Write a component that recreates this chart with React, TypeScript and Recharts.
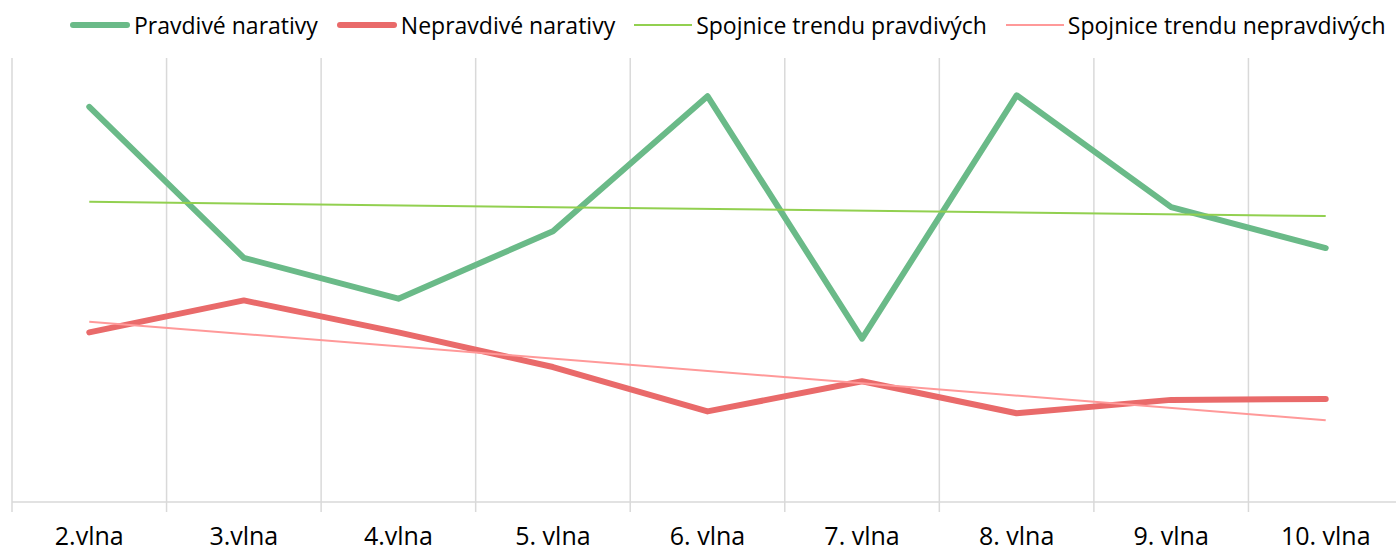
import React from 'react';
import { LineChart, Line, XAxis, YAxis, CartesianGrid, Legend } from 'recharts';

const categories = ['2.vlna', '3.vlna', '4.vlna', '5. vlna', '6. vlna', '7. vlna', '8. vlna', '9. vlna', '10. vlna'];
const pravdive = [44.5, 27.5, 22.9, 30.5, 45.7, 18.4, 45.8, 33.2, 28.6];
const nepravdive = [19.1, 22.7, 19.1, 15.2, 10.2, 13.6, 10.0, 11.5, 11.6];
const trendPravdive = [33.8, null, null, null, null, null, null, null, 32.2];
const trendNepravdive = [20.3, null, null, null, null, null, null, null, 9.2];
const gridTicks = [0, 1, 2, 3, 4, 5, 6, 7, 8, 9];
const labelTicks = [0.5, 1.5, 2.5, 3.5, 4.5, 5.5, 6.5, 7.5, 8.5];

const seriesNames = ['Pravdivé narativy', 'Nepravdivé narativy', 'Spojnice trendu pravdivých', 'Spojnice trendu nepravdivých'];
const seriesColors = ['#6aba88', '#e96a6a', '#92d050', '#ff9999'];
const seriesThick = [true, true, false, false];

const data = categories.map((c, i) => ({
  cat: c,
  idx: i + 0.5,
  pravdive: pravdive[i],
  nepravdive: nepravdive[i],
  trendP: trendPravdive[i],
  trendN: trendNepravdive[i],
}));

const FONT = '"Open Sans", "Liberation Sans", Arial, sans-serif';

const renderLegend = () => (
  <div style={{ display: 'flex', alignItems: 'flex-start', height: 44, paddingLeft: 58, boxSizing: 'border-box', fontFamily: FONT, fontSize: 23, color: '#000', lineHeight: '22px', whiteSpace: 'nowrap' }}>
    {seriesNames.map((name, i) => (
      <div key={i} style={{ display: 'flex', alignItems: 'center', marginRight: 19, height: 22, flexShrink: 0 }}>
        <span style={{ display: 'inline-block', width: seriesThick[i] ? 60 : 58, height: seriesThick[i] ? 6 : 2, borderRadius: seriesThick[i] ? 3 : 0, background: seriesColors[i], marginRight: 4 }} />
        <span>{name}</span>
      </div>
    ))}
  </div>
);

export default function App() {
  return (
    <div style={{ position: 'absolute', left: 0, top: 0, width: 1396, height: 552, overflow: 'hidden', background: '#fff' }}>
      <LineChart width={1404} height={552} data={data} margin={{ top: 14, right: 1, bottom: 0, left: 12 }}>
        <XAxis xAxisId="a_grid" dataKey="idx" type="number" domain={[0, 9]} ticks={gridTicks} height={10} tickSize={10} tickFormatter={() => ''} axisLine={{ stroke: '#d9d9d9', strokeWidth: 1.5 }} tickLine={{ stroke: '#d9d9d9', strokeWidth: 1.5 }} />
        <XAxis xAxisId="b_cat" dataKey="idx" type="number" domain={[0, 9]} ticks={labelTicks} tickFormatter={(v: number) => categories[Math.floor(v)]} height={40} axisLine={false} tickLine={false} tickSize={0} tickMargin={15} tick={{ fill: '#000', fontSize: 25, fontFamily: FONT }} interval={0} />
        <YAxis hide domain={[0, 50]} />
        <CartesianGrid xAxisId="a_grid" horizontal={false} vertical={true} stroke="#d9d9d9" strokeWidth={1.5} />
        <Legend verticalAlign="top" align="left" content={renderLegend} />
        <Line xAxisId="b_cat" dataKey="pravdive" name={seriesNames[0]} stroke={seriesColors[0]} strokeWidth={6} dot={false} isAnimationActive={false} strokeLinejoin="round" strokeLinecap="round" />
        <Line xAxisId="b_cat" dataKey="nepravdive" name={seriesNames[1]} stroke={seriesColors[1]} strokeWidth={6} dot={false} isAnimationActive={false} strokeLinejoin="round" strokeLinecap="round" />
        <Line xAxisId="b_cat" dataKey="trendP" name={seriesNames[2]} stroke={seriesColors[2]} strokeWidth={2} dot={false} connectNulls isAnimationActive={false} />
        <Line xAxisId="b_cat" dataKey="trendN" name={seriesNames[3]} stroke={seriesColors[3]} strokeWidth={2} dot={false} connectNulls isAnimationActive={false} />
      </LineChart>
    </div>
  );
}
